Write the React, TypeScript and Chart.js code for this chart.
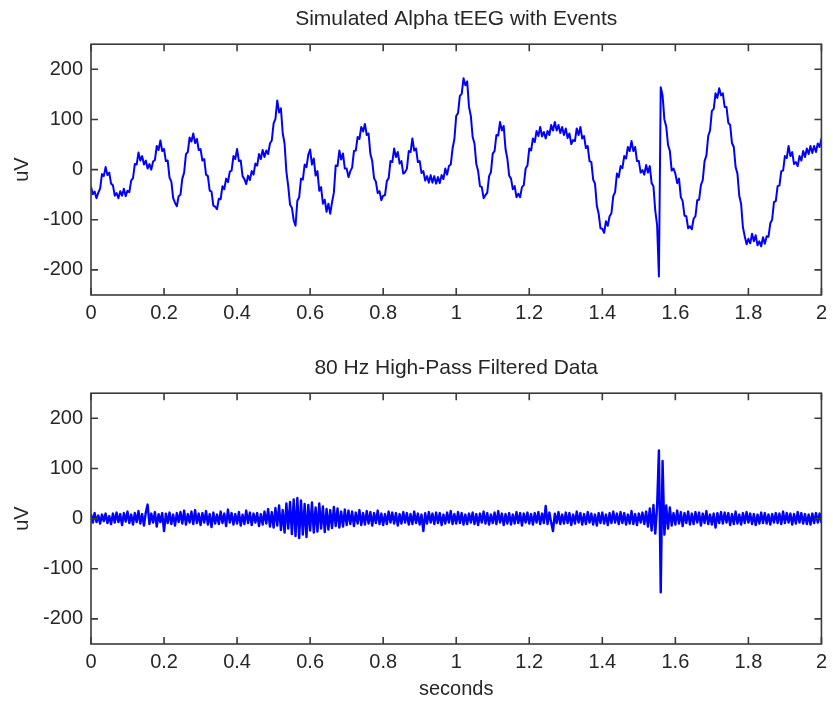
import React, { useEffect, useRef } from "react";
import { Chart, registerables } from "chart.js";

Chart.register(...registerables);

// ---- data ----
const SAMPLE_RATE = 200; // samples per second, t = index / SAMPLE_RATE

const TOP_TITLE = "Simulated Alpha tEEG with Events";
const BOTTOM_TITLE = "80 Hz High-Pass Filtered Data";
const Y_LABEL = "uV";
const X_LABEL = "seconds";

const X_TICKS = [0, 0.2, 0.4, 0.6, 0.8, 1, 1.2, 1.4, 1.6, 1.8, 2];
const Y_TICKS = [-200, -100, 0, 100, 200];

const TOP_UV = [
  -34, -49, -44, -57, -46, -38, -9, -13, 5, -11,
  -6, -28, -31, -52, -47, -57, -43, -52, -38, -53,
  -42, -45, -22, -17, 11, 10, 34, 18, 27, 10,
  18, 2, 11, 0, 16, 19, 47, 39, 58, 37,
  41, 17, 18, -16, -24, -57, -66, -73, -53, -50,
  -18, -6, 31, 35, 64, 56, 72, 53, 61, 39,
  41, 18, 21, -10, -13, -42, -44, -72, -74, -79,
  -58, -59, -33, -39, -18, -25, -4, -2, 27, 21,
  41, 17, 18, -13, -19, -29, -12, -21, -3, -10,
  12, 8, 31, 21, 39, 25, 38, 31, 52, 58,
  92, 101, 138, 114, 122, 72, 52, -4, -33, -70,
  -76, -101, -112, -62, -55, -18, -20, 10, 5, 30,
  40, 10, 22, -12, -3, -42, -35, -68, -60, -84,
  -68, -88, -65, -46, 8, 7, 38, 20, 32, 2,
  2, -15, -3, 4, 37, 38, 65, 61, 85, 76,
  91, 69, 72, 31, 17, -17, -24, -47, -43, -61,
  -52, -51, -23, -17, 17, 15, 42, 25, 35, 12,
  17, -8, -5, 2, 37, 35, 62, 38, 42, 15,
  17, -7, -3, -22, -13, -26, -11, -26, -13, -28,
  -15, -27, -11, -19, 2, -10, 7, 10, 42, 61,
  107, 113, 147, 151, 182, 168, 176, 125, 107, 65,
  52, 11, -3, -33, -35, -57, -51, -46, -13, -5,
  32, 37, 69, 68, 95, 78, 87, 41, 22, -12,
  -18, -39, -33, -55, -48, -55, -35, -31, 2, 8,
  42, 38, 62, 55, 77, 67, 85, 66, 75, 62,
  77, 69, 89, 78, 95, 78, 89, 73, 85, 69,
  82, 63, 72, 51, 59, 57, 82, 69, 85, 62,
  67, 43, 47, 17, 15, -20, -28, -72, -88, -117,
  -118, -126, -103, -112, -93, -87, -53, -45, -8, -15,
  7, 3, 27, 22, 45, 37, 57, 37, 45, 17,
  17, -6, -1, -10, 9, -6, 7, -27, -33, -82,
  -110, -213, 164, 148, 100, 86, 49, 37, -2, 2,
  -8, -27, -18, -55, -63, -92, -93, -117, -113, -119,
  -98, -93, -61, -60, -31, -21, 17, 28, 67, 78,
  117, 121, 152, 143, 162, 148, 152, 125, 125, 93,
  89, 53, 45, 5, -8, -52, -68, -115, -133, -149,
  -138, -147, -128, -143, -131, -151, -143, -153, -135, -148,
  -133, -134, -107, -100, -65, -63, -33, -32, -3, -2,
  27, 23, 47, 27, 35, 11, 15, 7, 27, 18,
  37, 25, 42, 31, 47, 33, 47, 35, 52, 45,
  62,
];

const BOTTOM_UV = [
  9, -8, 11, -7, 6, -10, 8, -5, 10, -9,
  5, -11, 10, -8, 12, -7, 9, -13, 11, -6,
  14, -9, 8, -12, 11, -7, 15, -10, 9, -14,
  12, 28, -11, 10, -8, 13, -16, 9, -7, 11,
  -25, 10, -9, 12, -11, 8, -14, 11, -7, 13,
  -10, 16, -12, 9, -8, 14, -11, 17, -9, 10,
  -13, 11, -8, 15, -12, 9, -17, 12, -10, 8,
  -11, 14, -9, 10, -15, 18, -8, 11, -12, 9,
  -10, 13, -14, 8, -11, 16, -9, 12, -13, 10,
  -8, 11, -15, 9, -12, 14, -10, 19, -16, 13,
  -18, 21, -14, 26, -23, 17, -28, 30, -20, 33,
  -31, 38, -35, 41, -39, 36, -32, 29, -37, 27,
  -24, 32, -28, 22, -26, 30, -20, 24, -27, 19,
  -22, 17, -19, 23, -15, 20, -18, 14, -16, 18,
  -13, 16, -11, 14, -15, 12, -10, 17, -13, 11,
  -12, 15, -10, 13, -14, 11, -9, 16, -11, 10,
  -13, 9, -11, 14, -8, 12, -10, 11, -14, 9,
  -10, 13, -8, 11, -12, 9, -11, 14, -9, 10,
  -12, 8, -25, 11, -10, 13, -8, 10, -11, 12,
  -9, 11, -13, 8, -10, 12, -8, 15, -11, 9,
  -10, 13, -9, 11, -12, 8, -11, 10, -8, 12,
  -11, 9, -13, 10, -8, 14, -10, 11, -12, 8,
  -9, 12, -11, 15, -8, 10, -13, 9, -10, 11,
  -12, 8, -10, 13, -9, 11, -14, 10, -8, 12,
  -10, 9, -12, 11, -8, 13, -11, 10, -9, 25,
  -11, 12, -8, -25, 10, -9, 13, -11, 8, -10,
  12, -9, 11, -13, 8, -10, 14, -8, 11, -12,
  9, -11, 13, -8, 10, -12, 8, -14, 11, -9,
  12, -10, 8, -13, 11, -9, 14, -8, 10, -11,
  13, -9, 11, -12, 8, -10, 15, -11, 9, -13,
  10, -8, 12, -11, 14, -16, 20, -24, 27, -30,
  24, 136, -147, 115, -32, 26, -20, 22, -14, 11,
  -12, 16, -10, 13, -15, 11, -9, 14, -12, 10,
  -11, 13, -8, 12, -14, 10, -9, 15, -11, 8,
  -12, 10, -18, 11, -9, 13, -10, 12, -8, 11,
  -13, 9, -11, 14, -10, 8, -12, 11, -9, 13,
  -8, 10, -11, 9, -13, 8, -10, 12, -9, 11,
  -10, 8, -12, 9, -8, 11, -9, 10, -11, 14,
  -9, 11, -8, 10, -12, 9, -10, 13, -8, 11,
  -10, 9, -11, 8, -12, 10, -9, 11, -8, 10,
  -9,
];

// ---- styling ----
const FONT_FAMILY = "'Liberation Sans', Arial, Helvetica, sans-serif";
const TEXT_COLOR = "#262626";
const LINE_COLOR = "#0000ff";
const FRAME_COLOR = "#3a3a3a";
const TICK_LEN = 7;

const matlabBox = {
  id: "matlabBox",
  afterDraw(chart: any) {
    const { ctx, chartArea } = chart;
    const { left, right, top, bottom } = chartArea;
    const xs = chart.scales.x;
    const ys = chart.scales.y;
    ctx.save();
    ctx.strokeStyle = FRAME_COLOR;
    ctx.lineWidth = 1.6;
    ctx.strokeRect(left, top, right - left, bottom - top);
    ctx.beginPath();
    xs.ticks.forEach((t: any) => {
      const px = xs.getPixelForValue(t.value);
      ctx.moveTo(px, bottom);
      ctx.lineTo(px, bottom - TICK_LEN);
      ctx.moveTo(px, top);
      ctx.lineTo(px, top + TICK_LEN);
    });
    ys.ticks.forEach((t: any) => {
      const py = ys.getPixelForValue(t.value);
      ctx.moveTo(left, py);
      ctx.lineTo(left + TICK_LEN, py);
      ctx.moveTo(right, py);
      ctx.lineTo(right - TICK_LEN, py);
    });
    ctx.stroke();
    ctx.restore();
  },
};

function makeConfig(
  values: number[],
  title: string,
  titlePad: { top: number; bottom: number },
  xAxisHeight: number,
  showXLabel: boolean,
  lineWidth: number
): any {
  return {
    type: "line",
    data: {
      datasets: [
        {
          data: values.map((v, i) => ({ x: i / SAMPLE_RATE, y: v })),
          borderColor: LINE_COLOR,
          borderWidth: lineWidth,
          pointRadius: 0,
          tension: 0,
          fill: false,
          borderJoinStyle: "round",
        },
      ],
    },
    options: {
      animation: false,
      responsive: false,
      parsing: false,
      normalized: true,
      events: [],
      layout: { padding: { left: 0, right: 9, top: 0, bottom: 0 } },
      plugins: {
        legend: { display: false },
        tooltip: { enabled: false },
        title: {
          display: true,
          text: title,
          color: TEXT_COLOR,
          fullSize: false,
          font: { size: 21, weight: "normal", family: FONT_FAMILY, lineHeight: 1.2 },
          padding: titlePad,
        },
      },
      scales: {
        x: {
          type: "linear",
          min: 0,
          max: 2,
          grid: { display: false, drawTicks: false },
          border: { display: false },
          afterBuildTicks: (s: any) => {
            s.ticks = X_TICKS.map((v) => ({ value: v }));
          },
          afterFit: (s: any) => {
            s.height = xAxisHeight;
          },
          ticks: {
            color: TEXT_COLOR,
            padding: 6,
            maxRotation: 0,
            autoSkip: false,
            font: { size: 20, family: FONT_FAMILY, lineHeight: 1.2 },
            callback: (v: any) => String(v),
          },
          title: {
            display: showXLabel,
            text: X_LABEL,
            color: TEXT_COLOR,
            font: { size: 20, family: FONT_FAMILY, lineHeight: 1.2 },
            padding: { top: 0, bottom: 1 },
          },
        },
        y: {
          type: "linear",
          min: -250,
          max: 250,
          grid: { display: false, drawTicks: false },
          border: { display: false },
          afterBuildTicks: (s: any) => {
            s.ticks = Y_TICKS.map((v) => ({ value: v }));
          },
          afterFit: (s: any) => {
            s.width = 91;
          },
          ticks: {
            color: TEXT_COLOR,
            padding: 8,
            autoSkip: false,
            font: { size: 20, family: FONT_FAMILY, lineHeight: 1.2 },
            callback: (v: any) => String(v),
          },
          title: {
            display: true,
            text: Y_LABEL,
            color: TEXT_COLOR,
            font: { size: 20, family: FONT_FAMILY, lineHeight: 1.2 },
            padding: { top: 10, bottom: 0 },
          },
        },
      },
    },
    plugins: [matlabBox],
  };
}

export default function App() {
  const topRef = useRef<HTMLCanvasElement | null>(null);
  const bottomRef = useRef<HTMLCanvasElement | null>(null);

  useEffect(() => {
    const c1 = new Chart(
      topRef.current as HTMLCanvasElement,
      makeConfig(TOP_UV, TOP_TITLE, { top: 7, bottom: 12 }, 56, false, 2)
    );
    const c2 = new Chart(
      bottomRef.current as HTMLCanvasElement,
      makeConfig(BOTTOM_UV, BOTTOM_TITLE, { top: 5, bottom: 12 }, 58, true, 2.4)
    );
    return () => {
      c1.destroy();
      c2.destroy();
    };
  }, []);

  return (
    <div
      style={{
        position: "fixed",
        left: 0,
        top: 0,
        width: 833,
        height: 702,
        background: "#ffffff",
      }}
    >
      <canvas
        ref={topRef}
        width={833}
        height={351}
        style={{ position: "absolute", left: 0, top: 0, width: 833, height: 351 }}
      />
      <canvas
        ref={bottomRef}
        width={833}
        height={351}
        style={{ position: "absolute", left: 0, top: 351, width: 833, height: 351 }}
      />
    </div>
  );
}
